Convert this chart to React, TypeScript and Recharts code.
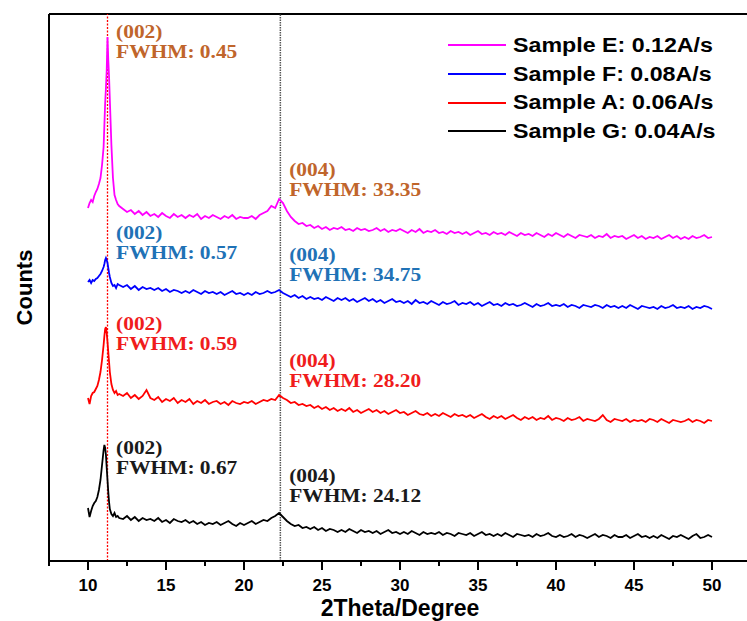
import { Legend, Line, LineChart, ReferenceDot, ReferenceLine, XAxis, YAxis } from 'recharts';

// 2θ grid (degrees) – denser around the (002) peak
const twoTheta = [
  10, 10.1, 10.2, 10.3, 10.4, 10.5, 10.6, 10.7, 10.8, 10.9,
  11, 11.05, 11.1, 11.15, 11.2, 11.25, 11.3, 11.35, 11.4,
  11.5, 11.6, 11.7, 11.8, 11.9, 12,
  12.25, 12.5, 12.75, 13, 13.25, 13.5, 13.75, 14,
  14.25, 14.5, 14.75, 15, 15.25, 15.5, 15.75, 16,
  16.25, 16.5, 16.75, 17, 17.25, 17.5, 17.75, 18,
  18.25, 18.5, 18.75, 19, 19.25, 19.5, 19.75, 20,
  20.25, 20.5, 20.75, 21, 21.25, 21.5, 21.75, 22,
  22.25, 22.5, 22.75, 23, 23.25, 23.5, 23.75, 24,
  24.25, 24.5, 24.75, 25, 25.25, 25.5, 25.75, 26,
  26.25, 26.5, 26.75, 27, 27.25, 27.5, 27.75, 28,
  28.25, 28.5, 28.75, 29, 29.25, 29.5, 29.75, 30,
  30.25, 30.5, 30.75, 31, 31.25, 31.5, 31.75, 32,
  32.25, 32.5, 32.75, 33, 33.25, 33.5, 33.75, 34,
  34.25, 34.5, 34.75, 35, 35.25, 35.5, 35.75, 36,
  36.25, 36.5, 36.75, 37, 37.25, 37.5, 37.75, 38,
  38.25, 38.5, 38.75, 39, 39.25, 39.5, 39.75, 40,
  40.25, 40.5, 40.75, 41, 41.25, 41.5, 41.75, 42,
  42.25, 42.5, 42.75, 43, 43.25, 43.5, 43.75, 44,
  44.25, 44.5, 44.75, 45, 45.25, 45.5, 45.75, 46,
  46.25, 46.5, 46.75, 47, 47.25, 47.5, 47.75, 48,
  48.25, 48.5, 48.75, 49, 49.25, 49.5, 49.75, 50,
];

// stacked counts (offset, arbitrary units)
const sampleE = [
  353, 358, 361, 359, 365, 369, 372, 377, 383, 396,
  414, 436, 458, 473, 491, 524, 501, 484, 461,
  416, 383, 366, 361, 357, 355,
  352, 349, 351, 347, 350, 346, 349, 345,
  347, 344, 348, 345, 343, 347, 344, 346,
  343, 346, 344, 347, 342, 345, 343, 346,
  344, 342, 345, 343, 346, 342, 344, 343,
  343, 345, 342, 346, 348, 350, 355, 353,
  362, 358, 350, 344, 340, 337, 338, 335,
  336, 333, 335, 332, 334, 331, 333, 332,
  334, 331, 332, 330, 333, 331, 332, 330,
  331, 333, 330, 332, 329, 331, 330, 332,
  330, 328, 331, 329, 332, 328, 330, 329,
  331, 328, 329, 327, 330, 328, 329, 327,
  329, 326, 328, 330, 327, 328, 326, 329,
  327, 328, 326, 329, 327, 325, 328, 326,
  327, 325, 328, 326, 324, 327, 325, 328,
  326, 324, 327, 325, 323, 326, 325, 324,
  326, 323, 325, 324, 327, 323, 325, 324,
  325, 322, 324, 326, 323, 325, 322, 324,
  323, 325, 322, 324, 326, 323, 325, 322,
  324, 322, 325, 323, 324, 326, 323, 324,
];

const sampleF = [
  279, 281, 278, 281, 280, 282, 283, 285, 287, 290,
  294, 297, 301, 303, 301, 298, 293, 288, 284,
  278, 275, 276, 273, 277, 276,
  274, 276, 272, 275, 271, 274, 272, 273,
  271, 273, 270, 272, 269, 271, 270, 268,
  270, 268, 271, 269, 267, 270, 268, 269,
  267, 269, 266, 268, 270, 267, 268, 266,
  268, 266, 269, 267, 268, 270, 268, 269,
  271, 268, 266, 264, 266, 263, 265, 262,
  264, 262, 263, 261, 264, 262, 260, 263,
  261, 263, 260, 262, 259, 261, 263, 260,
  262, 259, 261, 258, 260, 262, 259, 260,
  258, 260, 257, 261, 258, 259, 257, 260,
  258, 256, 259, 257, 258, 260, 256, 258,
  257, 259, 256, 258, 255, 257, 259, 256,
  257, 255, 258, 256, 257, 255, 256, 258,
  256, 254, 257, 255, 256, 258, 255, 256,
  255, 257, 254, 256, 255, 253, 256, 255,
  254, 256, 255, 253, 256, 254, 255, 253,
  255, 253, 256, 254, 252, 255, 254, 253,
  254, 252, 255, 253, 254, 256, 253, 254,
  253, 255, 252, 254, 253, 255, 254, 252,
];

const sampleA = [
  163, 157, 165, 168, 169, 172, 175, 181, 189, 201,
  216, 225, 232, 234, 228, 219, 209, 199, 189,
  177, 171, 168, 170, 166, 167,
  165, 168, 163, 166, 162, 165, 171, 163,
  161, 164, 159, 162, 160, 163, 158, 161,
  159, 162, 157, 160, 158, 161, 157, 159,
  160, 157, 159, 156, 160, 158, 157, 159,
  158, 160, 157, 159, 161, 160, 162, 161,
  166, 163, 161, 158, 159, 156, 157, 155,
  156, 153, 155, 152, 154, 151, 153, 150,
  152, 150, 153, 149, 151, 148, 150, 152,
  149, 151, 148, 150, 147, 149, 151, 148,
  149, 146, 148, 150, 147, 146, 148, 145,
  147, 145, 148, 146, 144, 147, 145, 146,
  144, 146, 143, 145, 147, 144, 142, 145,
  143, 145, 142, 144, 146, 143, 141, 144,
  142, 144, 141, 143, 142, 145, 141, 143,
  142, 140, 143, 141, 142, 144, 140, 142,
  141, 140, 142, 146, 141, 139, 142, 141,
  140, 142, 139, 141, 140, 141, 139, 142,
  141, 139, 142, 140, 138, 141, 140, 139,
  140, 142, 139, 141, 140, 138, 141, 140,
];

const sampleG = [
  53, 44, 50, 55, 58, 60, 64, 71, 81, 96,
  111, 116, 113, 106, 93, 81, 69, 59, 52,
  47, 45, 48, 44, 45, 43,
  42, 45, 41, 44, 40, 43, 41, 42,
  40, 43, 39, 41, 38, 42, 40, 39,
  41, 38, 40, 37, 39, 36, 38, 37,
  39, 36, 38, 40, 37, 35, 38, 36,
  38, 40, 37, 39, 41, 40, 43, 45,
  48, 44, 40, 37, 35, 36, 33, 34,
  32, 34, 31, 33, 30, 32, 31, 29,
  31, 29, 32, 30, 28, 31, 29, 30,
  28, 30, 27, 29, 31, 28, 29, 27,
  29, 27, 30, 28, 26, 29, 27, 28,
  27, 29, 26, 28, 27, 25, 28, 27,
  26, 28, 25, 27, 29, 26, 27, 25,
  27, 25, 28, 26, 24, 27, 26, 25,
  26, 24, 27, 25, 26, 28, 25, 24,
  26, 24, 25, 27, 24, 26, 25, 23,
  25, 27, 24, 26, 25, 23, 26, 24,
  24, 26, 23, 25, 27, 24, 25, 23,
  25, 23, 26, 24, 22, 25, 24, 26,
  24, 22, 25, 27, 23, 24, 26, 24,
];

const xTicks = [7.5, 10, 12.5, 15, 17.5, 20, 22.5, 25, 27.5, 30, 32.5, 35, 37.5, 40, 42.5, 45, 47.5, 50, 52.5];

// peak positions (degrees)
const peak002 = 11.25;
const peak004 = 22.33;

const fwhm002 = [0.45, 0.57, 0.59, 0.67];
const fwhm004 = [33.35, 34.75, 28.2, 24.12];

const SERIES = [
  { key: 'e', label: 'Sample E: 0.12A/s', color: '#ff00ff', values: sampleE, note: '#c0652b' },
  { key: 'f', label: 'Sample F: 0.08A/s', color: '#0000ff', values: sampleF, note: '#1f72b6' },
  { key: 'a', label: 'Sample A: 0.06A/s', color: '#ff0000', values: sampleA, note: '#f01c1c' },
  { key: 'g', label: 'Sample G: 0.04A/s', color: '#000000', values: sampleG, note: '#1a1a1a' },
];

// where the peak notes sit (x in degrees, y in counts)
const NOTE_X = [11.8, 22.9];
const NOTE_Y = [
  [529, 391],
  [328, 306],
  [237, 200],
  [113, 85],
];

const sans = "'Liberation Sans', Arial, sans-serif";
const serif = "'Liberation Serif', 'Times New Roman', serif";
const STRETCH = 1.19;

const data = twoTheta.map((t, i) => {
  const row: Record<string, number> = { t };
  SERIES.forEach((s) => {
    row[s.key] = s.values[i];
  });
  return row;
});

const AxisTick = ({ x, y, payload }: any) => {
  const major = payload.value % 5 === 0;
  return (
    <g>
      <line x1={x} x2={x} y1={y} y2={y + (major ? 9 : 5)} stroke="#000" strokeWidth={2} />
      {major && (
        <text x={x} y={y + 30} textAnchor="middle" fontFamily={sans} fontWeight="bold" fontSize={17} fill="#000">
          {payload.value}
        </text>
      )}
    </g>
  );
};

const noteLabel = (peak: string, fwhm: number, color: string) =>
  function Note({ viewBox }: any) {
    return (
      <g transform={`translate(${viewBox.x},${viewBox.y}) scale(${STRETCH},1)`}>
        <text x={0} y={0} fontFamily={serif} fontWeight="bold" fontSize={18} fill={color}>
          <tspan x={0} dy="0.35em">{peak}</tspan>
          <tspan x={0} dy={19.5}>{`FWHM: ${fwhm.toFixed(2)}`}</tspan>
        </text>
      </g>
    );
  };

const renderLegend = () => (
  <div style={{ fontFamily: sans, fontWeight: 'bold', fontSize: 19.5, color: '#000' }}>
    {SERIES.map((s) => (
      <div key={s.key} style={{ display: 'flex', alignItems: 'center', height: 28.7 }}>
        <span style={{ display: 'inline-block', width: 58, height: 0, borderTop: `2px solid ${s.color}`, marginRight: 7 }} />
        <span style={{ display: 'inline-block', transform: `scaleX(${STRETCH})`, transformOrigin: 'left center', whiteSpace: 'nowrap' }}>
          {s.label}
        </span>
      </div>
    ))}
  </div>
);

export default function App() {
  return (
    <div style={{ position: 'absolute', left: 0, top: 0, width: 747, height: 621, overflow: 'hidden', background: '#fff' }}>
      <LineChart width={757} height={621} data={data} margin={{ top: 14, right: 6, bottom: 0, left: 0 }}>
        <XAxis
          dataKey="t"
          type="number"
          domain={[7.5, 52.5]}
          ticks={xTicks}
          interval={0}
          tickSize={0}
          tickMargin={0}
          tickLine={false}
          tick={<AxisTick />}
          height={60}
          axisLine={{ stroke: '#000', strokeWidth: 2 }}
          label={{ value: '2Theta/Degree', position: 'insideBottom', offset: 5, fontSize: 23, fontWeight: 'bold', fontFamily: sans, fill: '#000' }}
        />
        <YAxis
          domain={[0, 547]}
          tick={false}
          tickLine={false}
          width={49}
          axisLine={{ stroke: '#000', strokeWidth: 2 }}
          label={{ value: 'Counts', angle: -90, position: 'center', fontSize: 22, fontWeight: 'bold', fontFamily: sans, fill: '#000' }}
        />
        <ReferenceLine y={547} stroke="#000" strokeWidth={2} />
        <ReferenceLine x={52.5} stroke="#000" strokeWidth={2} />
        <ReferenceLine x={peak002} stroke="#ff0000" strokeWidth={1.3} strokeDasharray="2 1.5" />
        <ReferenceLine x={peak004} stroke="#555" strokeWidth={1.5} strokeDasharray="1.5 1" />
        {SERIES.map((s) => (
          <Line
            key={s.key}
            type="linear"
            dataKey={s.key}
            stroke={s.color}
            strokeWidth={1.8}
            dot={false}
            activeDot={false}
            isAnimationActive={false}
          />
        ))}
        {SERIES.map((s, i) => (
          <ReferenceDot
            key={`n002-${s.key}`}
            x={NOTE_X[0]}
            y={NOTE_Y[i][0]}
            r={0}
            stroke="none"
            fill="none"
            label={noteLabel('(002)', fwhm002[i], s.note)}
          />
        ))}
        {SERIES.map((s, i) => (
          <ReferenceDot
            key={`n004-${s.key}`}
            x={NOTE_X[1]}
            y={NOTE_Y[i][1]}
            r={0}
            stroke="none"
            fill="none"
            label={noteLabel('(004)', fwhm004[i], s.note)}
          />
        ))}
        <Legend
          layout="vertical"
          align="center"
          verticalAlign="middle"
          wrapperStyle={{ left: 448, top: 31, width: 299 }}
          content={renderLegend}
        />
      </LineChart>
    </div>
  );
}
